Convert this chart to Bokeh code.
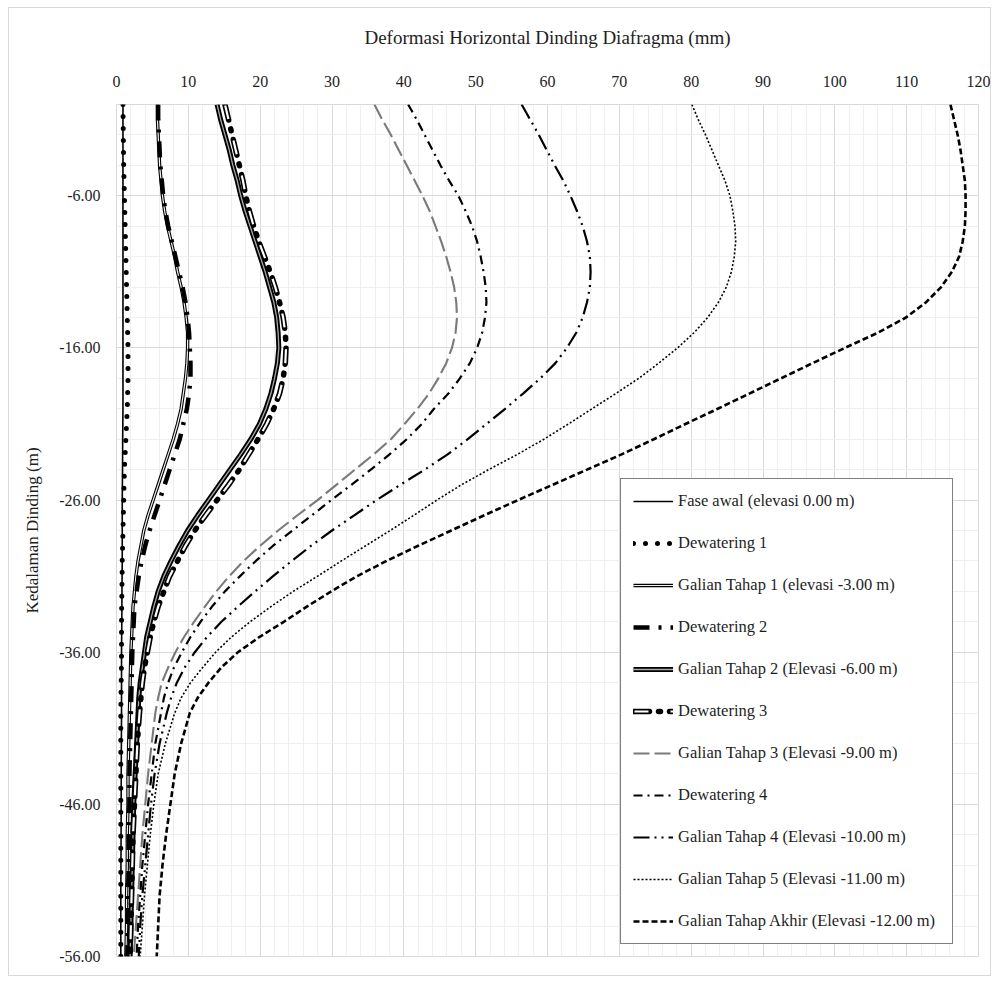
from bokeh.plotting import figure
from bokeh.models import FixedTicker, PrintfTickFormatter, Legend, LegendItem, Range1d
from bokeh.embed import file_html
from bokeh.resources import INLINE

# depth (m) at which each curve is read
depth = [0, -1, -2, -3, -4, -5, -6, -7, -8, -9,
         -10, -11, -12, -13, -14, -15, -16, -17, -18, -19,
         -20, -21, -22, -23, -24, -25, -26, -27, -28, -29,
         -30, -31, -32, -33, -34, -35, -36, -37, -38, -39,
         -40, -42, -44, -46, -48, -50, -52, -54, -56]

fase_awal = [0.9, 0.9, 0.9, 0.9, 0.9, 0.9, 0.9, 0.9, 0.9, 0.9,
             0.9, 0.9, 0.9, 0.9, 0.9, 0.9, 0.9, 0.9, 0.9, 0.9,
             0.9, 0.88, 0.86, 0.85, 0.84, 0.82, 0.8, 0.8, 0.8, 0.8,
             0.8, 0.78, 0.76, 0.75, 0.74, 0.72, 0.7, 0.7, 0.7, 0.7,
             0.7, 0.68, 0.66, 0.65, 0.64, 0.62, 0.6, 0.6, 0.6]
dewatering_1 = [0.9, 0.92, 0.95, 0.97, 1.0, 1.05, 1.1, 1.15, 1.2, 1.25,
                1.3, 1.35, 1.4, 1.45, 1.5, 1.55, 1.6, 1.6, 1.6, 1.55,
                1.5, 1.4, 1.3, 1.2, 1.1, 1.05, 1.0, 0.95, 0.9, 0.85,
                0.8, 0.78, 0.75, 0.72, 0.7, 0.7, 0.7, 0.68, 0.65, 0.62,
                0.6, 0.6, 0.6, 0.6, 0.6, 0.6, 0.6, 0.6, 0.6]
galian_1 = [5.7, 5.7, 5.8, 5.9, 6.0, 6.2, 6.4, 6.7, 7.1, 7.6,
            8.1, 8.5, 9.0, 9.4, 9.7, 9.9, 9.9, 9.8, 9.6, 9.3,
            9.0, 8.5, 7.9, 7.2, 6.5, 5.8, 5.1, 4.4, 3.8, 3.4,
            3.0, 2.7, 2.5, 2.3, 2.2, 2.1, 2.0, 1.95, 1.9, 1.85,
            1.8, 1.7, 1.6, 1.6, 1.5, 1.5, 1.4, 1.4, 1.3]
dewatering_2 = [5.8, 5.8, 5.9, 6.0, 6.1, 6.3, 6.5, 6.8, 7.2, 7.7,
                8.2, 8.7, 9.2, 9.6, 9.9, 10.1, 10.2, 10.3, 10.3, 10.1,
                9.8, 9.3, 8.8, 8.1, 7.4, 6.7, 6.0, 5.3, 4.6, 4.0,
                3.5, 3.1, 2.8, 2.5, 2.4, 2.3, 2.2, 2.15, 2.1, 2.05,
                2.0, 1.9, 1.8, 1.8, 1.7, 1.7, 1.6, 1.6, 1.5]
galian_2 = [14.0, 14.5, 15.1, 15.7, 16.2, 16.8, 17.3, 17.9, 18.6, 19.3,
            20.0, 20.7, 21.3, 21.9, 22.3, 22.5, 22.6, 22.4, 22.0, 21.5,
            20.8, 19.9, 18.7, 17.3, 15.8, 14.3, 12.8, 11.3, 9.9, 8.7,
            7.6, 6.6, 5.8, 5.2, 4.7, 4.2, 3.9, 3.6, 3.3, 3.1,
            3.0, 2.8, 2.6, 2.4, 2.3, 2.2, 2.1, 2.0, 1.9]
dewatering_3 = [15.1, 15.6, 16.1, 16.6, 17.1, 17.6, 18.0, 18.5, 19.1, 19.8,
                20.6, 21.4, 22.1, 22.7, 23.2, 23.5, 23.6, 23.5, 23.2, 22.7,
                21.9, 20.9, 19.7, 18.4, 17.1, 15.6, 14.0, 12.4, 10.9, 9.6,
                8.5, 7.4, 6.6, 5.8, 5.2, 4.7, 4.3, 3.9, 3.6, 3.4,
                3.2, 2.9, 2.7, 2.5, 2.3, 2.2, 2.1, 2.0, 1.9]
galian_3 = [35.9, 37.0, 38.2, 39.3, 40.4, 41.5, 42.6, 43.6, 44.4, 45.2,
            45.9, 46.5, 47.0, 47.3, 47.4, 47.2, 46.7, 45.9, 44.8, 43.5,
            41.9, 40.1, 38.2, 35.8, 33.2, 30.6, 28.0, 25.2, 22.5, 20.0,
            17.7, 15.7, 13.9, 12.3, 10.8, 9.4, 8.2, 7.2, 6.3, 5.8,
            5.4, 4.9, 4.4, 4.0, 3.6, 3.3, 3.0, 2.7, 2.4]
dewatering_4 = [40.6, 41.8, 42.9, 44.0, 45.1, 46.3, 47.6, 48.6, 49.5, 50.2,
                50.7, 51.1, 51.4, 51.5, 51.3, 50.9, 50.2, 49.2, 47.8, 46.2,
                44.2, 42.5, 40.4, 38.0, 35.4, 32.7, 29.9, 27.2, 24.5, 21.8,
                19.4, 17.2, 15.1, 13.3, 11.7, 10.3, 9.1, 8.0, 7.2, 6.6,
                6.2, 5.4, 4.9, 4.4, 4.0, 3.6, 3.3, 3.0, 2.8]
galian_4 = [56.4, 57.6, 58.8, 59.9, 61.0, 62.2, 63.2, 64.1, 64.9, 65.5,
            65.9, 66.0, 65.9, 65.5, 64.9, 64.0, 62.7, 61.1, 59.0, 56.6,
            54.1, 51.5, 48.9, 46.1, 42.9, 39.5, 36.2, 33.1, 30.0, 27.1,
            24.4, 21.8, 19.3, 16.9, 14.6, 12.6, 10.9, 9.5, 8.4, 7.6,
            7.0, 6.0, 5.3, 4.8, 4.4, 4.0, 3.6, 3.3, 3.1]
galian_5 = [80.1, 81.0, 82.0, 82.9, 83.8, 84.7, 85.4, 85.8, 86.1, 86.2,
            86.0, 85.6, 84.9, 83.8, 82.3, 80.4, 78.1, 75.5, 72.7, 69.5,
            66.2, 62.9, 59.5, 55.8, 51.8, 48.0, 44.6, 41.4, 38.1, 34.7,
            31.3, 28.0, 24.6, 21.5, 18.6, 16.0, 13.8, 12.0, 10.3, 9.0,
            8.1, 6.8, 5.8, 5.2, 4.7, 4.3, 3.9, 3.6, 3.3]
galian_akhir = [116.1, 116.6, 117.1, 117.5, 117.8, 118.1, 118.2, 118.2, 118.1, 117.8,
                117.3, 116.3, 114.8, 112.7, 109.9, 106.0, 101.4, 96.9, 92.5, 88.1,
                83.7, 79.2, 74.8, 70.3, 65.5, 60.7, 55.9, 51.2, 46.6, 42.0,
                37.6, 33.5, 29.9, 26.5, 23.3, 19.9, 16.9, 14.6, 12.8, 11.3,
                10.2, 9.0, 8.1, 7.5, 6.9, 6.4, 6.0, 5.8, 5.6]

labels = [
    "Fase awal (elevasi 0.00 m)",
    "Dewatering 1",
    "Galian Tahap 1 (elevasi -3.00 m)",
    "Dewatering 2",
    "Galian Tahap 2 (Elevasi -6.00 m)",
    "Dewatering 3",
    "Galian Tahap 3 (Elevasi -9.00 m)",
    "Dewatering 4",
    "Galian Tahap 4 (Elevasi -10.00 m)",
    "Galian Tahap 5 (Elevasi -11.00 m)",
    "Galian Tahap Akhir (Elevasi -12.00 m)",
]

x_ticks = [0, 10, 20, 30, 40, 50, 60, 70, 80, 90, 100, 110, 120]
y_ticks = [-56, -46, -36, -26, -16, -6]

FONT = "'Liberation Serif', 'Times New Roman', serif"
TXT = "#1e1e1e"

p = figure(width=983, height=969, x_range=Range1d(0, 120), y_range=Range1d(-56, 0),
           x_axis_location="above", output_backend="svg", toolbar_location=None,
           min_border_left=107, min_border_right=14, min_border_top=96, min_border_bottom=21)
p.margin = (7, 0, 0, 8)
p.styles = {"border": "1px solid #d9d9d9"}

p.xaxis.ticker = FixedTicker(ticks=x_ticks, minor_ticks=list(range(0, 121, 2)))
p.yaxis.ticker = FixedTicker(ticks=y_ticks, minor_ticks=list(range(-56, 1, 2)))
p.yaxis.formatter = PrintfTickFormatter(format="%.2f")

for ax in (p.xaxis[0], p.yaxis[0]):
    ax.axis_line_color = None
    ax.major_tick_line_color = None
    ax.minor_tick_line_color = None
    ax.major_label_text_font = FONT
    ax.major_label_text_font_size = "16px"
    ax.major_label_text_color = TXT
    ax.axis_label_text_font = FONT
    ax.axis_label_text_font_style = "normal"
    ax.axis_label_text_color = TXT

p.xaxis.axis_label = "Deformasi Horizontal Dinding Diafragma (mm)"
p.xaxis.axis_label_text_font_size = "19px"
p.xaxis.major_label_standoff = 12
p.xaxis.axis_label_standoff = 25
p.yaxis.axis_label = "Kedalaman Dinding (m)"
p.yaxis.axis_label_text_font_size = "17px"
p.yaxis.major_label_standoff = 10
p.yaxis.axis_label_standoff = 14

for g in (p.xgrid[0], p.ygrid[0]):
    g.grid_line_color = "#d9d9d9"
    g.grid_line_width = 1
    g.minor_grid_line_color = "#efefef"
    g.minor_grid_line_width = 1

p.outline_line_color = "#d9d9d9"

items = []

r = p.line(fase_awal, depth, line_color="black", line_width=1.6)
items.append(LegendItem(label=labels[0], renderers=[r]))

r = p.line(dewatering_1, depth, line_color="black", line_width=5, line_dash="0 12", line_cap="round")
items.append(LegendItem(label=labels[1], renderers=[r]))

r1 = p.line(galian_1, depth, line_color="black", line_width=3.4, line_join="round")
r2 = p.line(galian_1, depth, line_color="#f2f2f2", line_width=1.2, line_join="round")
items.append(LegendItem(label=labels[2], renderers=[r1, r2]))

r = p.line(dewatering_2, depth, line_color="black", line_width=4.5, line_dash="16 9 3 9")
items.append(LegendItem(label=labels[3], renderers=[r]))

r1 = p.line(galian_2, depth, line_color="black", line_width=5, line_join="round")
r2 = p.line(galian_2, depth, line_color="#a8a8a8", line_width=1.3, line_join="round")
items.append(LegendItem(label=labels[4], renderers=[r1, r2]))

r1 = p.line(dewatering_3, depth, line_color="black", line_width=5.5, line_dash="16 9 2 9", line_cap="round")
r2 = p.line(dewatering_3, depth, line_color="white", line_width=2.2, line_dash="0 1 14 21")
items.append(LegendItem(label=labels[5], renderers=[r1, r2]))

r = p.line(galian_3, depth, line_color="#7a7a7a", line_width=2.1, line_dash="16 5")
items.append(LegendItem(label=labels[6], renderers=[r]))

r = p.line(dewatering_4, depth, line_color="black", line_width=2.2, line_dash="9 5 2 5")
items.append(LegendItem(label=labels[7], renderers=[r]))

r = p.line(galian_4, depth, line_color="black", line_width=2.2, line_dash="16 5 2 5 2 5")
items.append(LegendItem(label=labels[8], renderers=[r]))

r = p.line(galian_5, depth, line_color="black", line_width=1.6, line_dash="2 2")
items.append(LegendItem(label=labels[9], renderers=[r]))

r = p.line(galian_akhir, depth, line_color="black", line_width=2.6, line_dash="6 3")
items.append(LegendItem(label=labels[10], renderers=[r]))

legend = Legend(items=items, location=(504, 12), margin=0, padding=12,
                glyph_width=40, glyph_height=20, label_height=20, label_width=262,
                spacing=22, label_standoff=5, label_text_font=FONT, label_text_font_size="16.5px",
                label_text_color=TXT, border_line_color="black", border_line_width=1.3,
                background_fill_color="white", background_fill_alpha=1.0)
p.add_layout(legend)

open("out.html", "w").write(file_html(p, INLINE))
